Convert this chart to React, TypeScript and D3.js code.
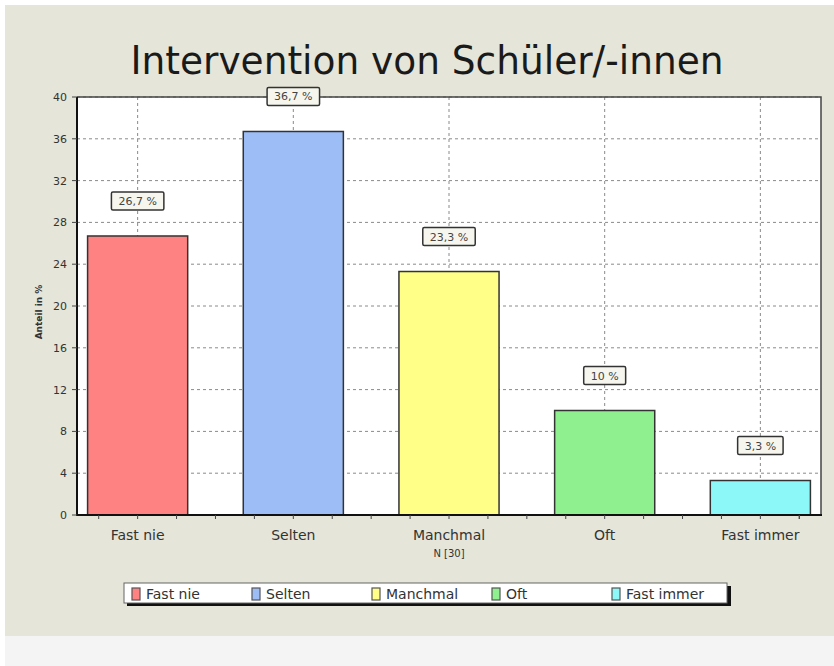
import React, { useEffect, useRef } from 'react'
import * as d3 from 'd3'

// Daten aus dem Diagramm
const categories = ['Fast nie', 'Selten', 'Manchmal', 'Oft', 'Fast immer']
const values = [26.7, 36.7, 23.3, 10, 3.3]
const valueLabels = ['26,7 %', '36,7 %', '23,3 %', '10 %', '3,3 %']
const yTicks = [0, 4, 8, 12, 16, 20, 24, 28, 32, 36, 40]
const colors = ['#ff8282', '#9dbdf7', '#ffff88', '#8ef08e', '#8cf8f8']
const title = 'Intervention von Schüler/-innen'
const yTitle = 'Anteil in %'
const nLabel = 'N [30]'

const W = 834
const H = 666
const plot = { left: 77, right: 821, top: 97, bottom: 515 }
const FONT = "'DejaVu Sans', Verdana, sans-serif"

export default function App() {
  const ref = useRef<SVGSVGElement>(null)

  useEffect(() => {
    const svg = d3.select(ref.current)
    svg.selectAll('*').remove()

    // hintergrund
    svg.append('rect').attr('width', W).attr('height', H).attr('fill', '#ffffff')
    svg.append('rect').attr('x', 5).attr('y', 5).attr('width', W - 5).attr('height', 631).attr('fill', '#e5e5d9')
    svg.append('rect').attr('x', 5).attr('y', 636).attr('width', W - 5).attr('height', 30).attr('fill', '#f4f4f4')

    svg.append('text').text(title)
      .attr('x', 427).attr('y', 74)
      .attr('text-anchor', 'middle')
      .attr('font-family', "'DejaVu Sans Condensed', 'DejaVu Sans', sans-serif")
      .attr('font-stretch', 'condensed')
      .attr('font-size', 39)
      .attr('textLength', 593)
      .attr('lengthAdjust', 'spacingAndGlyphs')
      .attr('fill', '#1a1a1a')

    const x = d3.scaleBand<string>().domain(categories)
      .range([plot.left, plot.right])
      .paddingInner(0.357).paddingOuter(0.068)
    const y = d3.scaleLinear().domain([0, 40]).range([plot.bottom, plot.top])
    const step = x.step()
    const cx = (c: string) => (x(c) as number) + x.bandwidth() / 2

    svg.append('rect')
      .attr('x', plot.left).attr('y', plot.top)
      .attr('width', plot.right - plot.left).attr('height', plot.bottom - plot.top)
      .attr('fill', '#ffffff')

    // gitter
    const g = svg.append('g')
    g.selectAll('line.h').data(yTicks.slice(1)).enter().append('line')
      .attr('x1', plot.left).attr('x2', plot.right)
      .attr('y1', d => y(d)).attr('y2', d => y(d))
      .attr('stroke', '#8a8a8a').attr('stroke-width', 1).attr('stroke-dasharray', '3,3')
    g.selectAll('line.v').data(categories).enter().append('line')
      .attr('x1', d => cx(d)).attr('x2', d => cx(d))
      .attr('y1', plot.top).attr('y2', plot.bottom)
      .attr('stroke', '#8a8a8a').attr('stroke-width', 1).attr('stroke-dasharray', '3,3')

    // balken
    g.selectAll('rect.bar').data(values).enter().append('rect')
      .attr('x', (d, i) => x(categories[i]) as number)
      .attr('y', d => y(d))
      .attr('width', x.bandwidth())
      .attr('height', d => plot.bottom - y(d))
      .attr('fill', (d, i) => colors[i])
      .attr('stroke', '#333').attr('stroke-width', 1.5)

    // rahmen
    svg.append('path')
      .attr('d', `M${plot.left},${plot.top}H${plot.right}V${plot.bottom}`)
      .attr('fill', 'none').attr('stroke', '#444').attr('stroke-width', 1.5)
    svg.append('path')
      .attr('d', `M${plot.left},${plot.top}V${plot.bottom}H${plot.right + 1}`)
      .attr('fill', 'none').attr('stroke', '#111').attr('stroke-width', 2)

    // y achse
    const ya = svg.append('g')
    ya.selectAll('line').data(yTicks).enter().append('line')
      .attr('x1', plot.left - 5).attr('x2', plot.left)
      .attr('y1', d => y(d)).attr('y2', d => y(d))
      .attr('stroke', '#444')
    ya.selectAll('text').data(yTicks).enter().append('text')
      .text(d => d)
      .attr('x', 67).attr('y', d => y(d) + 4)
      .attr('text-anchor', 'end')
      .attr('font-family', FONT)
      .attr('font-size', 11).attr('fill', '#333')
    svg.append('text').text(yTitle)
      .attr('transform', 'translate(42,312) rotate(-90)')
      .attr('text-anchor', 'middle')
      .attr('font-family', FONT)
      .attr('font-size', 9).attr('font-weight', 'bold').attr('fill', '#333')

    // x achse: kleine ticks
    const xt: number[] = []
    categories.forEach(c => {
      for (let k = -2; k < 2; k++) {
        const p = cx(c) + k * step / 4
        if (p > plot.left + 2 && p < plot.right - 2) xt.push(p)
      }
    })
    const lastX = cx(categories[categories.length - 1]) + step / 4
    if (lastX < plot.right - 2) xt.push(lastX)
    svg.append('g').selectAll('line').data(xt).enter().append('line')
      .attr('x1', d => d).attr('x2', d => d)
      .attr('y1', plot.bottom).attr('y2', plot.bottom + 4)
      .attr('stroke', '#444')
    svg.append('g').selectAll('text').data(categories).enter().append('text')
      .text(d => d)
      .attr('x', d => cx(d)).attr('y', 540)
      .attr('text-anchor', 'middle')
      .attr('font-family', FONT)
      .attr('font-size', 14).attr('fill', '#333')
    svg.append('text').text(nLabel)
      .attr('x', cx(categories[2])).attr('y', 557)
      .attr('text-anchor', 'middle')
      .attr('font-family', FONT)
      .attr('font-size', 10).attr('fill', '#333')

    // wertelabels
    const lab = svg.append('g').selectAll('g').data(values).enter().append('g')
      .attr('transform', (d, i) => 'translate(' + cx(categories[i]) + ',' + (y(d) - 35) + ')')
    lab.each(function (d, i) {
      const el = d3.select(this)
      const t = el.append('text').text(valueLabels[i])
        .attr('text-anchor', 'middle').attr('y', 4)
        .attr('font-family', FONT)
        .attr('font-size', 11).attr('fill', '#444')
      const w = (t.node() as SVGTextElement).getComputedTextLength() + 14
      el.insert('rect', 'text')
        .attr('x', -w / 2).attr('y', -9).attr('width', w).attr('height', 18)
        .attr('rx', 1.5)
        .attr('fill', '#f6f6ee').attr('stroke', '#333').attr('stroke-width', 1.5)
    })

    // legende
    const lx = d3.scalePoint<string>().domain(categories).range([132, 612])
    svg.append('rect').attr('x', 127).attr('y', 586).attr('width', 604).attr('height', 20).attr('fill', '#111')
    svg.append('rect').attr('x', 124).attr('y', 583).attr('width', 603).attr('height', 20)
      .attr('fill', '#ffffff').attr('stroke', '#666').attr('stroke-width', 1)
    const li = svg.append('g').selectAll('g').data(categories).enter().append('g')
      .attr('transform', d => 'translate(' + lx(d) + ',0)')
    li.append('rect').attr('x', 0).attr('y', 588).attr('width', 8).attr('height', 12)
      .attr('fill', (d, i) => colors[i]).attr('stroke', '#555').attr('stroke-width', 1.2)
    li.append('text').text(d => d)
      .attr('x', 14).attr('y', 599)
      .attr('font-family', FONT)
      .attr('font-size', 14).attr('fill', '#333')
  }, [])

  return (
    <svg ref={ref} width={W} height={H} style={{ position: 'absolute', left: 0, top: 0 }}></svg>
  )
}
